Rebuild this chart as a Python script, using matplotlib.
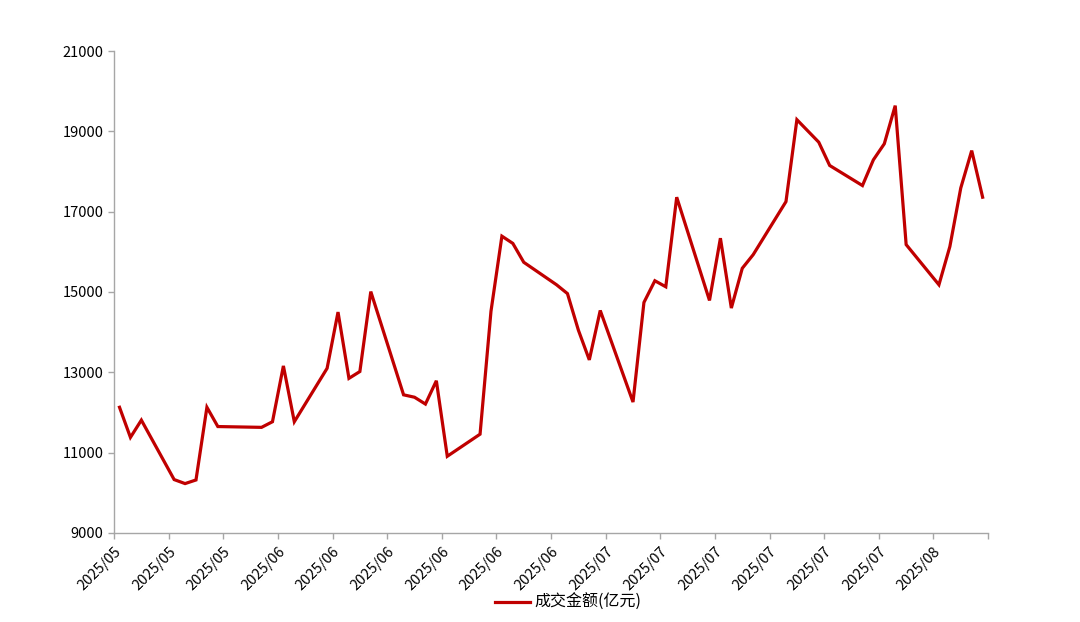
import numpy as np
import pandas as pd
import matplotlib
matplotlib.use("Agg")
import matplotlib.pyplot as plt

RED = "#c00000"
GREY = "#a6a6a6"

plt.rcParams["font.family"] = ["Noto Sans CJK SC", "DejaVu Sans"]

# trading days and turnover (100 million yuan)
dates = [
    "2025-05-21", "2025-05-22", "2025-05-23", "2025-05-26", "2025-05-27",
    "2025-05-28", "2025-05-29", "2025-05-30", "2025-06-03", "2025-06-04",
    "2025-06-05", "2025-06-06", "2025-06-09", "2025-06-10", "2025-06-11",
    "2025-06-12", "2025-06-13", "2025-06-16", "2025-06-17", "2025-06-18",
    "2025-06-19", "2025-06-20", "2025-06-23", "2025-06-24", "2025-06-25",
    "2025-06-26", "2025-06-27", "2025-06-30", "2025-07-01", "2025-07-02",
    "2025-07-03", "2025-07-04", "2025-07-07", "2025-07-08", "2025-07-09",
    "2025-07-10", "2025-07-11", "2025-07-14", "2025-07-15", "2025-07-16",
    "2025-07-17", "2025-07-18", "2025-07-21", "2025-07-22", "2025-07-23",
    "2025-07-24", "2025-07-25", "2025-07-28", "2025-07-29", "2025-07-30",
    "2025-07-31", "2025-08-01", "2025-08-04", "2025-08-05", "2025-08-06",
    "2025-08-07", "2025-08-08",
]
turnover = [
    12130, 11380, 11810, 10330, 10230,
    10320, 12130, 11650, 11630, 11770,
    13160, 11770, 13100, 14500, 12850,
    13020, 15010, 12440, 12380, 12210,
    12790, 10910, 11460, 14520, 16390,
    16210, 15740, 15180, 14960, 14050,
    13310, 14540, 12260, 14740, 15280,
    15130, 17360, 14790, 16340, 14600,
    15590, 15930, 17250, 19290, 19010,
    18730, 18150, 17650, 18290, 18690,
    19640, 16180, 15180, 16130, 17590,
    18520, 17360,
]

start = pd.Timestamp("2025-05-21")
n_days = 80
x = (pd.to_datetime(dates) - start).days.to_numpy()

fig = plt.figure(figsize=(10.8, 6.22), dpi=100)
ax = fig.add_axes([0.1056, 0.1431, 0.8093, 0.7749])

line, = ax.plot(x, turnover, color=RED, linewidth=2.3, label="成交金额(亿元)",
                solid_joinstyle="miter")

ax.set_xlim(-0.5, n_days - 0.5)
ax.set_ylim(9000, 21000)
ax.set_yticks(np.arange(9000, 21001, 2000))

tick_pos = np.arange(-0.5, n_days, 5)
tick_lab = [(start + pd.Timedelta(days=5 * k)).strftime("%Y/%m") for k in range(len(tick_pos) - 1)] + [""]
ax.set_xticks(tick_pos)
ax.set_xticklabels(tick_lab, rotation=45, ha="right", rotation_mode="anchor")

for s in ["top", "right"]:
    ax.spines[s].set_visible(False)
for s in ["left", "bottom"]:
    ax.spines[s].set_color(GREY)
    ax.spines[s].set_linewidth(1.0)
ax.tick_params(axis="both", colors=GREY, length=4, width=1.0, labelsize=10.5,
               labelcolor="#000000")
ax.tick_params(axis="x", pad=4)

fig.legend(handles=[line], loc="center", bbox_to_anchor=(568 / 1080, 0.031),
           frameon=False, fontsize=11.5, handlelength=2.2, handletextpad=0.3)

fig.savefig("out.png", dpi=100)
